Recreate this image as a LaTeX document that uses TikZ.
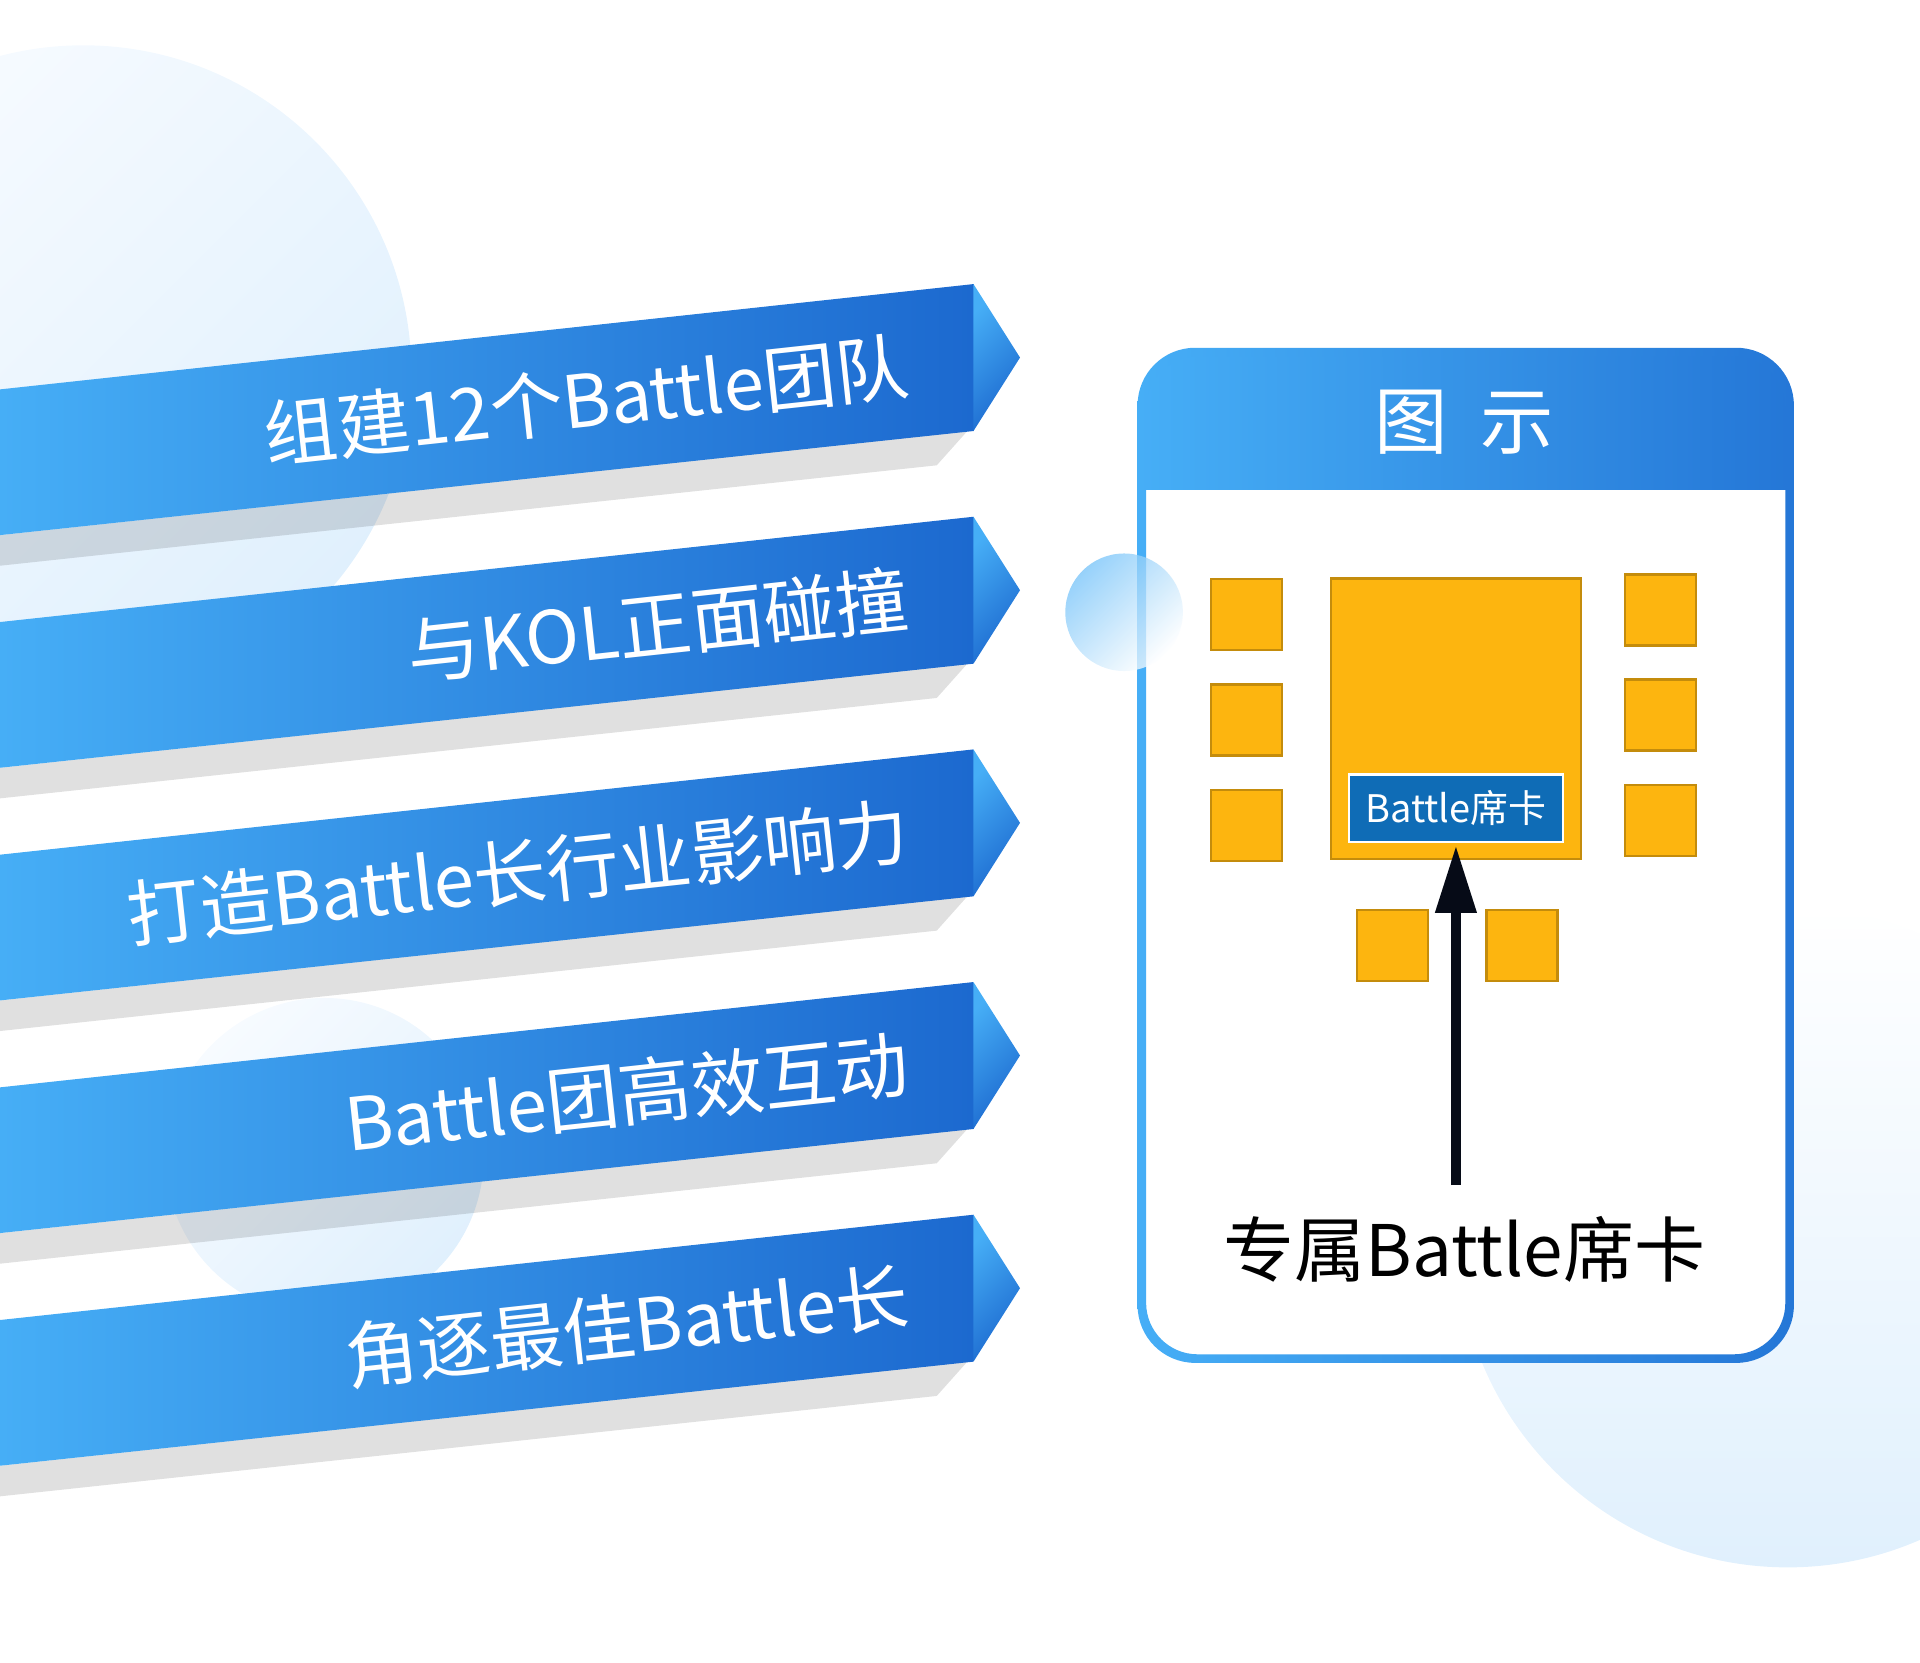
\documentclass[tikz,border=0pt]{standalone}
\usepackage{fontspec}
\newfontfamily\cjk{Noto Sans CJK SC}
\usepackage{tikz}
\usetikzlibrary{positioning,arrows.meta}
\definecolor{bandlight}{HTML}{46AEF6}
\definecolor{banddark}{HTML}{1C69CF}
\definecolor{bublight}{HTML}{F7FBFF}
\definecolor{bubblue}{HTML}{E0F0FD}
\definecolor{seatfill}{HTML}{FDB50F}
\definecolor{seatedge}{HTML}{C48C0C}
\definecolor{cardblue}{HTML}{0F6CB6}
\definecolor{arrowink}{HTML}{060B17}
\tikzset{
  bubble/.style={left color=bublight,right color=bubblue,shading angle=45},
  band/.style={left color=bandlight,right color=banddark},
  bandtip/.style={left color=bandlight,right color=banddark,shading angle=45},
  bandshadow/.style={fill=black,opacity=0.12},
  bandtext/.style={text=white,font=\cjk\fontsize{59.5}{60}\selectfont,rotate=6.2,anchor=east,inner sep=0pt},
  banner/.pic={
    \fill[bandshadow] (0,437) -- (790,352) -- (765,380) -- (0,462) -- cycle;
    \shade[band] (0,318) -- (795,232) -- (795,352) -- (0,437) -- cycle;
    \shade[bandtip] (795,232) -- (833,292) -- (795,352) -- cycle;
  },
  head/.style={left color=bandlight,right color=banddark!80!bandlight},
  title/.style={text=white,font=\cjk\fontsize{60}{60}\selectfont,inner sep=0pt},
  seat/.style={rectangle,draw=seatedge,fill=seatfill,line width=2pt,minimum width=58pt,minimum height=58pt,inner sep=0pt},
  table/.style={seat,minimum width=204pt,minimum height=229pt},
  card/.style={rectangle,draw=white,fill=cardblue,line width=2pt,text=white,minimum width=175pt,minimum height=55pt,inner sep=0pt,font=\cjk\fontsize{31}{31}\selectfont},
  caption/.style={text=black,font=\cjk\fontsize{58}{60}\selectfont,inner sep=0pt},
  pointer/.style={draw=arrowink,line width=8pt,-{Triangle[length=55pt,width=32pt]},shorten <=25pt,shorten >=2pt}
}
\begin{document}
\begin{tikzpicture}[x=1pt,y=-1pt]
  \useasboundingbox (0,0) rectangle (1568,1358);

  % background bubbles
  \shade[bubble] (68,305) circle (268pt);
  \shade[bubble] (265,945) circle (130pt);
  \shade[top color=white,bottom color=bubblue] (1460,1010) circle (270pt);

  % banners
  \pic at (0,0) {banner};
  \pic at (0,190) {banner};
  \pic at (0,380) {banner};
  \pic at (0,570) {banner};
  \pic at (0,760) {banner};

  \node[bandtext] (team) at (742,298) {组建12个Battle团队};
  \node[bandtext] (kol) at (742,488) {与KOL正面碰撞};
  \node[bandtext] (infl) at (742,678) {打造Battle长行业影响力};
  \node[bandtext] (inter) at (742,868) {Battle团高效互动};
  \node[bandtext] (best) at (742,1058) {角逐最佳Battle长};

  % legend box
  \begin{scope}
    \clip[rounded corners=45pt] (932,287) rectangle (1462,1110);
    \fill[white] (932,287) rectangle (1462,1110);
    \shade[head] (932,287) rectangle (1462,400);
  \end{scope}
  \shade[head,even odd rule] [rounded corners=47pt] (929,284) rectangle (1465,1113)
    [rounded corners=42pt] (936,291) rectangle (1458,1106);
  \shade[left color=bandlight!75,right color=white,shading angle=45,opacity=0.75] (918,500) circle (48pt);

  \node[title] (legend) at (1196,345) {图\hspace{.45em}示};

  \node[table] (table) at (1189,587) {};
  \node[seat] (l1) at (1018,502) {};
  \node[seat,below=26pt of l1] (l2) {};
  \node[seat,below=26pt of l2] (l3) {};
  \node[seat] (r1) at (1356,498) {};
  \node[seat,below=26pt of r1] (r2) {};
  \node[seat,below=26pt of r2] (r3) {};
  \node[seat] (b1) at (1137,772) {};
  \node[seat,right=46pt of b1] (b2) {};

  \node[card,above=14pt of table.south] (card) {Battle席卡};
  \node[caption] (note) at (1196,1020) {专属Battle席卡};

  \draw[pointer] (note.north -| card.south) -- (card.south);
\end{tikzpicture}
\end{document}
